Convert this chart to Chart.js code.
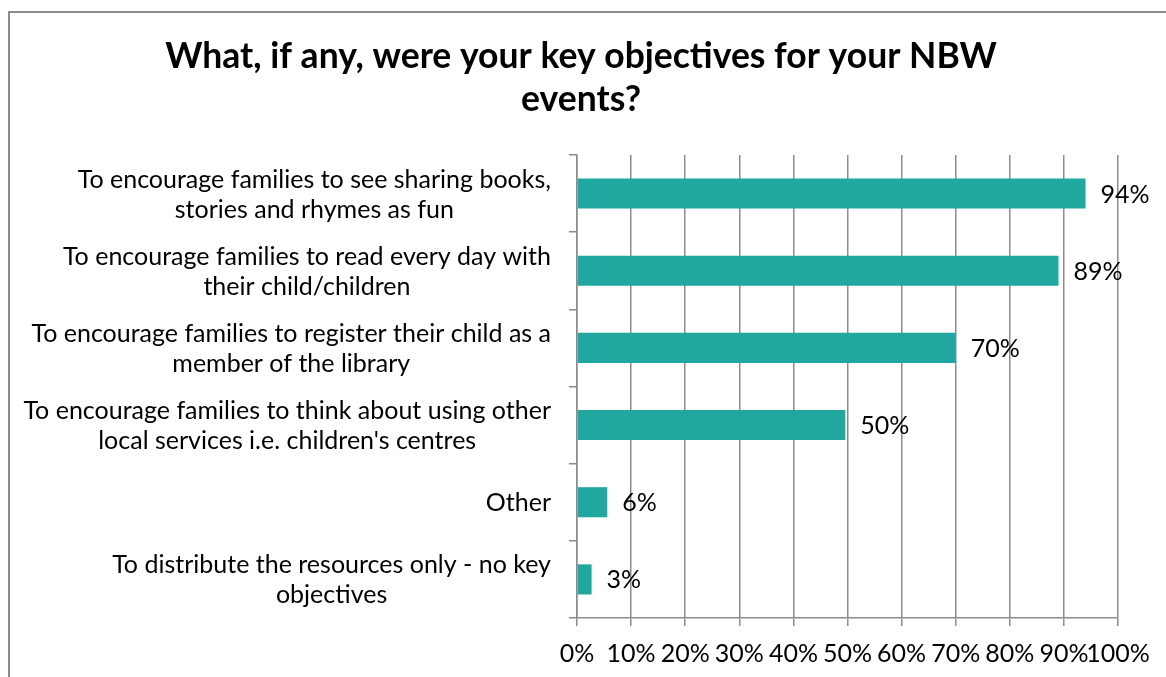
<!DOCTYPE html>
<html>
<head>
<meta charset="utf-8">
<script src="https://cdn.jsdelivr.net/npm/chart.js@4"></script>
<style>
  html, body { margin: 0; padding: 0; background: #fff; }
  #wrap { width: 1166px; height: 677px; }
</style>
</head>
<body>
<div id="wrap"><canvas id="myChart"></canvas></div>
<script>
const categories = [
  ["To encourage families to see sharing books,", "stories and rhymes as fun"],
  ["To encourage families to read every day with", "their child/children"],
  ["To encourage families to register their child as a", "member of the library"],
  ["To encourage families to think about using other", "local services i.e. children's centres"],
  ["Other"],
  ["To distribute the resources only - no key", "objectives"]
];
const values = [94, 89, 70, 49.6, 5.6, 2.7];
const valueLabels = ["94%", "89%", "70%", "50%", "6%", "3%"];
const titleLines = ["What, if any, were your key objectives for your NBW", "events?"];

const FONT = "Lato, 'Open Sans', sans-serif";
const barColor = "#1fa7a0";
const gridColor = "#8c8c8c";

// frame round the chart, like the office chart border
const framePlugin = {
  id: "frame",
  beforeDraw(chart) {
    const ctx = chart.ctx;
    ctx.save();
    ctx.fillStyle = "#fff";
    ctx.fillRect(0, 0, chart.width, chart.height);
    ctx.strokeStyle = "#8c8c8c";
    ctx.lineWidth = 2;
    ctx.strokeRect(9, 12, 1300, 800);
    ctx.restore();
  }
};

// category labels: each block right aligned, lines centred on each other
const catLabelPlugin = {
  id: "catLabels",
  afterDraw(chart) {
    const ctx = chart.ctx;
    const y = chart.scales.y;
    const right = 551;
    const lh = 30;
    ctx.save();
    ctx.font = "25px " + FONT;
    ctx.fillStyle = "#000";
    ctx.textBaseline = "middle";
    ctx.textAlign = "center";
    categories.forEach((lines, i) => {
      const w = Math.max(...lines.map(l => ctx.measureText(l).width));
      const cx = right - w / 2;
      const cy = y.getPixelForTick(i) + 1;
      const top = cy - (lines.length - 1) * lh / 2;
      lines.forEach((l, j) => ctx.fillText(l, cx, top + j * lh));
    });
    ctx.restore();
  }
};

// value labels at the end of each bar
const valueLabelPlugin = {
  id: "valueLabels",
  afterDatasetsDraw(chart) {
    const ctx = chart.ctx;
    const meta = chart.getDatasetMeta(0);
    ctx.save();
    ctx.font = "25px " + FONT;
    ctx.fillStyle = "#000";
    ctx.textBaseline = "middle";
    ctx.textAlign = "left";
    meta.data.forEach((bar, i) => {
      ctx.fillText(valueLabels[i], bar.x + 15, bar.y + 1);
    });
    ctx.restore();
  }
};

const config = {
  type: "bar",
  data: {
    labels: categories,
    datasets: [
      {
        data: values,
        backgroundColor: barColor,
        borderWidth: 0,
        barPercentage: 0.39,
        categoryPercentage: 1,
      },
    ],
  },
  options: {
    indexAxis: "y",
    responsive: true,
    maintainAspectRatio: false,
    animation: false,
    layout: { padding: { left: 44, right: 48, top: 35, bottom: 0 } },
    plugins: {
      legend: { display: false },
      tooltip: { enabled: false },
      title: {
        display: true,
        text: titleLines,
        color: "#000",
        font: { family: FONT, size: 35.5, weight: "bold", lineHeight: 1.21 },
        padding: { top: 0, bottom: 34 },
      },
    },
    scales: {
      x: {
        min: 0,
        max: 100,
        ticks: {
          stepSize: 10,
          autoSkip: false,
          maxRotation: 0,
          color: "#000",
          padding: 13,
          font: { family: FONT, size: 25 },
          callback: (v) => v + "%",
        },
        grid: { color: gridColor, lineWidth: 1.5, tickLength: 8 },
        border: { color: gridColor, width: 1.5 },
        afterFit: (scale) => { scale.height = 59; },
      },
      y: {
        ticks: { display: false },
        grid: { color: gridColor, lineWidth: 1.5, tickLength: 8, drawOnChartArea: false, offset: true },
        border: { color: gridColor, width: 1.5 },
        afterFit: (scale) => { scale.width = 577 - 44; },
      },
    },
  },
  plugins: [framePlugin, catLabelPlugin, valueLabelPlugin],
};

var myChart = new Chart(document.getElementById("myChart"), config);
</script>
</body>
</html>
